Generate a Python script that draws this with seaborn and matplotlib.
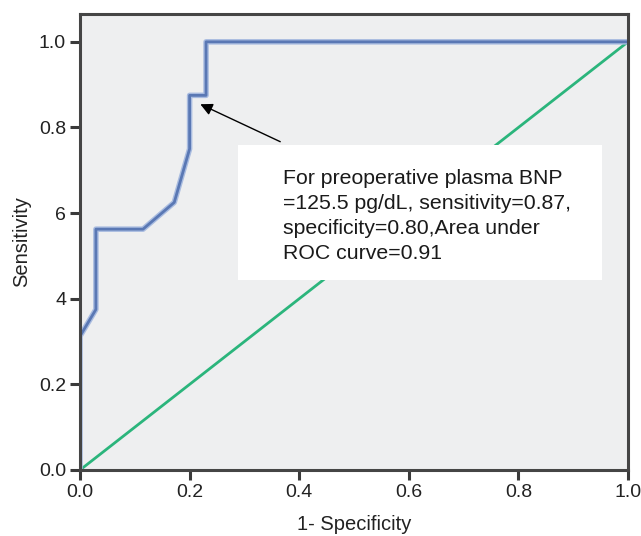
import matplotlib
matplotlib.use("Agg")
import matplotlib.pyplot as plt
import matplotlib.patches as mpatches
import seaborn as sns
import pandas as pd

# ROC curve points
fpr = [0.0, 0.0, 0.029, 0.029, 0.115, 0.172, 0.20, 0.20, 0.23, 0.23, 1.0]
tpr = [0.0, 0.3125, 0.375, 0.5625, 0.5625, 0.625, 0.75, 0.875, 0.875, 1.0, 1.0]
ref_x = [0.0, 1.0]
ref_y = [0.0, 1.0]

x_ticks = [0.0, 0.2, 0.4, 0.6, 0.8, 1.0]
x_labels = ["0.0", "0.2", "0.4", "0.6", "0.8", "1.0"]
y_ticks = [0.0, 0.2, 0.4, 0.6, 0.8, 1.0]
y_labels = ["0.0", "0.2", "4", "6", "0.8", "1.0"]

note = ("For preoperative plasma BNP\n=125.5 pg/dL, sensitivity=0.87,\n"
        "specificity=0.80,Area under\nROC curve=0.91")

sns.set_theme(style="ticks")
plt.rcParams["font.family"] = ["Liberation Sans", "DejaVu Sans"]

roc = pd.DataFrame({"fpr": fpr, "tpr": tpr})
diag = pd.DataFrame({"x": ref_x, "y": ref_y})

fig = plt.figure(figsize=(6.41, 5.36), dpi=100)
ax = fig.add_axes([80 / 641, 66 / 536, 548 / 641, 456 / 536])
ax.set_facecolor("#eeeff0")

sns.lineplot(data=diag, x="x", y="y", color="#2bb57c", linewidth=2.0,
             estimator=None, ax=ax)
sns.lineplot(data=roc, x="fpr", y="tpr", sort=False, estimator=None,
             color="#a9bce0", linewidth=4.0, ax=ax)
sns.lineplot(data=roc, x="fpr", y="tpr", sort=False, estimator=None,
             color="#5a78b4", linewidth=2.0, ax=ax)

ax.set_xlim(0, 1.0)
ax.set_ylim(0, 1.065)
ax.set_xticks(x_ticks)
ax.set_xticklabels(x_labels)
ax.set_yticks(y_ticks)
ax.set_yticklabels(y_labels)
for s in ax.spines.values():
    s.set_linewidth(2.2)
    s.set_color("#454545")

ax.set_xlabel("1- Specificity", fontsize=14.5, color="#222222", labelpad=10)
ax.set_ylabel("Sensitivity", fontsize=14.5, color="#222222", labelpad=6)

ax.annotate("", xy=(0.215, 0.857), xytext=(0.37, 0.764),
            arrowprops=dict(arrowstyle="-|>", color="black", lw=1.0,
                            mutation_scale=18))
ax.add_patch(mpatches.Rectangle((0.288, 0.444), 0.665, 0.315,
                                facecolor="white", edgecolor="none", zorder=3))
ax.text(0.37, 0.593, note, ha="left", va="center", fontsize=15.3,
        color="#1a1a1a", linespacing=1.4, zorder=4)

ax.tick_params(axis="both", which="major", direction="out", bottom=True,
               left=True, length=7, width=2.2, color="#3a3a3a",
               labelsize=14, labelcolor="#222222", pad=3)

fig.savefig("out.png", dpi=100)
